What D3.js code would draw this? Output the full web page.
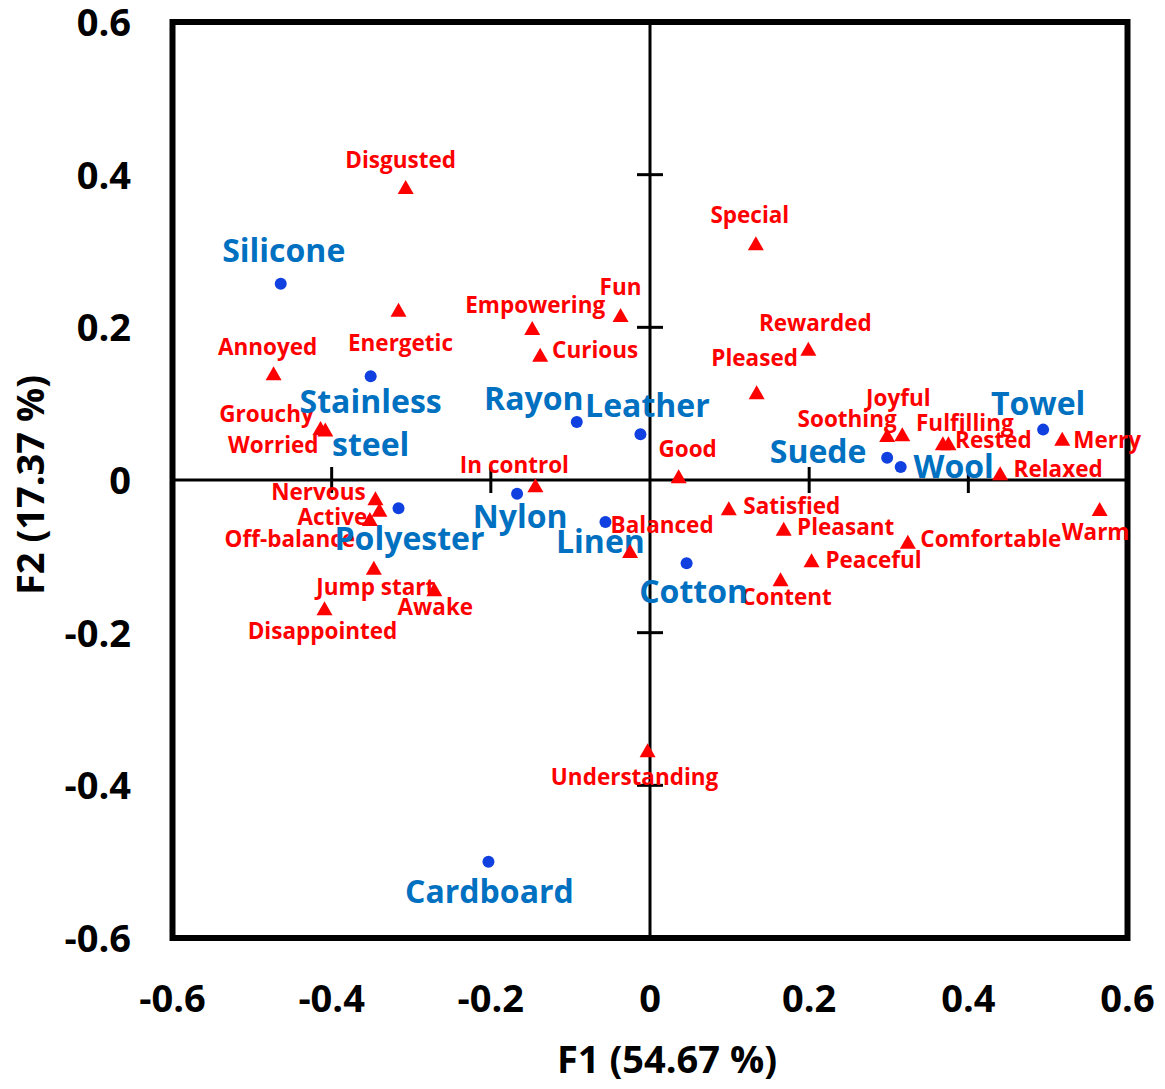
<!DOCTYPE html>
<html>
<head>
<meta charset="utf-8">
<script src="https://cdn.jsdelivr.net/npm/d3@7"></script>
<style>
  html, body { margin: 0; padding: 0; background: #fff; }
  svg { display: block; font-family: "Open Sans", "Noto Sans", sans-serif; font-weight: 700; }
</style>
</head>
<body>
<svg id="chart" width="1165" height="1089"></svg>
<script>
// Materials (blue dots) on the first two factors
const materialNames = ["Silicone", "Stainless steel", "Rayon", "Leather", "Nylon", "Polyester",
  "Linen", "Cotton", "Suede", "Wool", "Towel", "Cardboard"];
const materialF1 = [-0.464, -0.351, -0.092, -0.012, -0.167, -0.316, -0.056, 0.046, 0.298, 0.315, 0.494, -0.203];
const materialF2 = [0.257, 0.136, 0.076, 0.060, -0.018, -0.037, -0.055, -0.109, 0.029, 0.017, 0.066, -0.500];

// Emotion terms (red triangles)
const emotionNames = ["Disgusted", "Energetic", "Annoyed", "Grouchy", "Worried", "Empowering", "Fun",
  "Curious", "In control", "Good", "Balanced", "Satisfied", "Special", "Rewarded", "Pleased",
  "Soothing", "Joyful", "Fulfilling", "Rested", "Merry", "Relaxed", "Warm", "Pleasant",
  "Comfortable", "Peaceful", "Content", "Understanding", "Nervous", "Active", "Off-balance",
  "Jump start", "Awake", "Disappointed"];
const emotionF1 = [-0.307, -0.316, -0.473, -0.414, -0.408, -0.148, -0.037, -0.138, -0.144, 0.036,
  -0.025, 0.099, 0.133, 0.199, 0.134, 0.298, 0.317, 0.368, 0.375, 0.518, 0.440, 0.565, 0.168,
  0.324, 0.203, 0.164, -0.003, -0.345, -0.340, -0.352, -0.347, -0.271, -0.409];
const emotionF2 = [0.384, 0.223, 0.140, 0.068, 0.066, 0.199, 0.216, 0.164, -0.007, 0.005,
  -0.093, -0.037, 0.310, 0.172, 0.115, 0.059, 0.060, 0.048, 0.048, 0.054, 0.009, -0.038, -0.064,
  -0.081, -0.105, -0.130, -0.354, -0.024, -0.039, -0.051, -0.115, -0.143, -0.168];

const tickValues = [-0.6, -0.4, -0.2, 0, 0.2, 0.4, 0.6];
const tickLabels = ["-0.6", "-0.4", "-0.2", "0", "0.2", "0.4", "0.6"];
const xTitle = "F1 (54.67 %)";
const yTitle = "F2 (17.37 %)";

// Label placement (pixel offset of text centre/baseline from its marker)
const labelOffset = {
  "Silicone": [3, -22], "Stainless steel": [0, 37], "Rayon": [-43, -12], "Leather": [7, -17],
  "Nylon": [3, 34], "Polyester": [11, 42], "Linen": [-5, 31], "Cotton": [7, 40],
  "Suede": [-69, 5], "Wool": [53, 11], "Towel": [-5, -15], "Cardboard": [1, 41],
  "Disgusted": [-5, -19], "Energetic": [2, 41], "Annoyed": [-6, -18], "Grouchy": [-54, -6],
  "Worried": [-52, 23], "Empowering": [3, -15], "Fun": [0, -20], "Curious": [55, 3],
  "In control": [-21, -12], "Good": [9, -19], "Balanced": [32, -18], "Satisfied": [63, 6],
  "Special": [-6, -20], "Rewarded": [7, -18], "Pleased": [-2, -26], "Soothing": [-40, -8],
  "Joyful": [-4, -28], "Fulfilling": [22, -12], "Rested": [45, 5], "Merry": [45, 9],
  "Relaxed": [58, 4], "Warm": [-4, 31], "Pleasant": [62, 6], "Comfortable": [83, 5],
  "Peaceful": [62, 8], "Content": [6, 26], "Understanding": [-13, 35], "Nervous": [-57, 2],
  "Active": [-47, 15], "Off-balance": [-80, 28], "Jump start": [2, 27], "Awake": [1, 26],
  "Disappointed": [-2, 31]
};
// Multi-line labels
const labelLines = { "Stainless steel": ["Stainless", "steel"] };

const materials = materialNames.map((n, i) => ({ name: n, f1: materialF1[i], f2: materialF2[i] }));
const emotions = emotionNames.map((n, i) => ({ name: n, f1: emotionF1[i], f2: emotionF2[i] }));
const ticks = tickValues.map((v, i) => ({ v, label: tickLabels[i] }));

const svg = d3.select("#chart");
const x = d3.scaleLinear().domain([-0.6, 0.6]).range([172.5, 1127.5]);
const y = d3.scaleLinear().domain([-0.6, 0.6]).range([938, 22]);

// Zero axes crossing in the middle
svg.append("line").attr("x1", x(-0.6)).attr("x2", x(0.6)).attr("y1", y(0)).attr("y2", y(0))
  .attr("stroke", "#000").attr("stroke-width", 3);
svg.append("line").attr("x1", x(0)).attr("x2", x(0)).attr("y1", y(0.6)).attr("y2", y(-0.6))
  .attr("stroke", "#000").attr("stroke-width", 3);

// Cross ticks along the zero axes
const inner = tickValues.filter(v => v !== 0 && Math.abs(v) < 0.6);
svg.append("g").selectAll("line").data(inner).join("line")
  .attr("x1", d => x(d)).attr("x2", d => x(d))
  .attr("y1", y(0) - 13).attr("y2", y(0) + 13)
  .attr("stroke", "#000").attr("stroke-width", 3);
svg.append("g").selectAll("line").data(inner).join("line")
  .attr("y1", d => y(d)).attr("y2", d => y(d))
  .attr("x1", x(0) - 13).attr("x2", x(0) + 13)
  .attr("stroke", "#000").attr("stroke-width", 3);

// Plot frame
svg.append("rect").attr("x", x(-0.6)).attr("y", y(0.6))
  .attr("width", x(0.6) - x(-0.6)).attr("height", y(-0.6) - y(0.6))
  .attr("fill", "none").attr("stroke", "#000").attr("stroke-width", 6);

// Tick labels
svg.append("g").selectAll("text").data(ticks).join("text")
  .attr("x", d => x(d.v)).attr("y", 1012)
  .attr("text-anchor", "middle").attr("font-size", 38).attr("fill", "#000")
  .text(d => d.label);
svg.append("g").selectAll("text").data(ticks).join("text")
  .attr("x", 131).attr("y", d => y(d.v) + 14)
  .attr("text-anchor", "end").attr("font-size", 38).attr("fill", "#000")
  .text(d => d.label);

// Axis titles
svg.append("text").attr("x", 667).attr("y", 1073).attr("text-anchor", "middle")
  .attr("font-size", 38).attr("fill", "#000").text(xTitle);
svg.append("text").attr("transform", "translate(44,485) rotate(-90)").attr("text-anchor", "middle")
  .attr("font-size", 38).attr("fill", "#000").text(yTitle);

// Emotion labels
svg.append("g").selectAll("text").data(emotions).join("text")
  .attr("x", d => x(d.f1) + labelOffset[d.name][0])
  .attr("y", d => y(d.f2) + labelOffset[d.name][1])
  .attr("text-anchor", "middle").attr("font-size", 22.5).attr("fill", "#ff0000")
  .text(d => d.name);

// Material labels
const mLabels = svg.append("g").selectAll("text").data(materials).join("text")
  .attr("x", d => x(d.f1) + labelOffset[d.name][0])
  .attr("y", d => y(d.f2) + labelOffset[d.name][1])
  .attr("text-anchor", "middle").attr("font-size", 32).attr("fill", "#0070c0");
mLabels.each(function (d) {
  const lines = labelLines[d.name] || [d.name];
  const t = d3.select(this);
  lines.forEach((ln, i) => {
    t.append("tspan").attr("x", x(d.f1) + labelOffset[d.name][0]).attr("dy", i === 0 ? 0 : 43).text(ln);
  });
});

// Markers
const tri = "M0,-7L8,7L-8,7Z";
svg.append("g").selectAll("path").data(emotions).join("path")
  .attr("d", tri)
  .attr("transform", d => `translate(${x(d.f1)},${y(d.f2)})`)
  .attr("fill", "#ff0000");
svg.append("g").selectAll("circle").data(materials).join("circle")
  .attr("cx", d => x(d.f1)).attr("cy", d => y(d.f2)).attr("r", 6)
  .attr("fill", "#1040e0");
</script>
</body>
</html>
